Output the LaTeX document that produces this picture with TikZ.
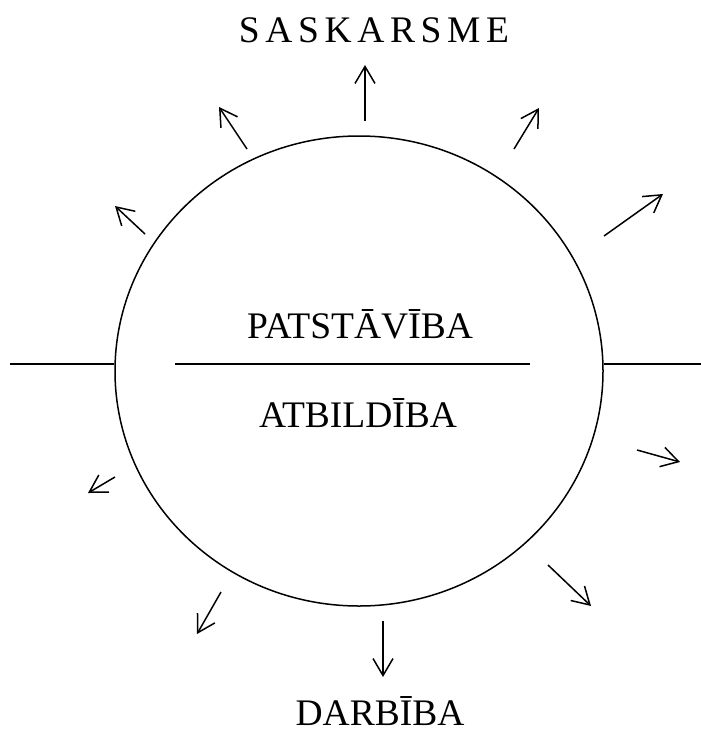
\documentclass[tikz,border=0pt]{standalone}
\usepackage{fontspec}
\setmainfont{Liberation Serif}
\usetikzlibrary{arrows.meta,shapes.geometric}

\begin{document}
\begin{tikzpicture}[x=1pt,y=-1pt,line width=1.5pt,
  ray/.style={-{Straight Barb[length=17pt,width=20pt,line width=1.5pt]}},
  word node/.style={anchor=base,inner sep=0pt,font=\fontsize{37.5}{44}\selectfont}]
  \useasboundingbox (0,0) rectangle (701,736);

  \node[ellipse,draw,minimum width=488pt,minimum height=470pt,inner sep=0pt] (C) at (359,371) {};

  \node[word node] (top) at (374,42) {\addfontfeature{LetterSpace=15}SASKARSME};
  \node[word node] (up) at (360,338) {PATSTĀVĪBA};
  \node[word node] (low) at (358,427) {ATBILDĪBA};
  \node[word node] (bottom) at (380,725) {DARBĪBA};

%horizontal lines
  \coordinate (lA) at (10,364);
  \coordinate (rA) at (701,364);
  \coordinate (mA) at (175,364);
  \coordinate (mB) at (530,364);
  \draw (lA) -- (lA -| C.west);
  \draw (C.east |- rA) -- (rA);
  \draw (mA) -- (mB);

%rays
  \foreach \bx/\by/\tx/\ty [count=\i] in {365/121/365/65, 247/149/219/107,
      514/149/539/108, 145/234/115/206, 604/236/663/194, 637/450/680/462,
      115/477/88/493, 221/592/197/634, 383/621/383/677, 548/565/591/606}
  {
    \coordinate (b\i) at (\bx,\by);
    \coordinate (t\i) at (\tx,\ty);
    \draw[ray] (b\i) -- (t\i);
  }

\end{tikzpicture}
\end{document}
